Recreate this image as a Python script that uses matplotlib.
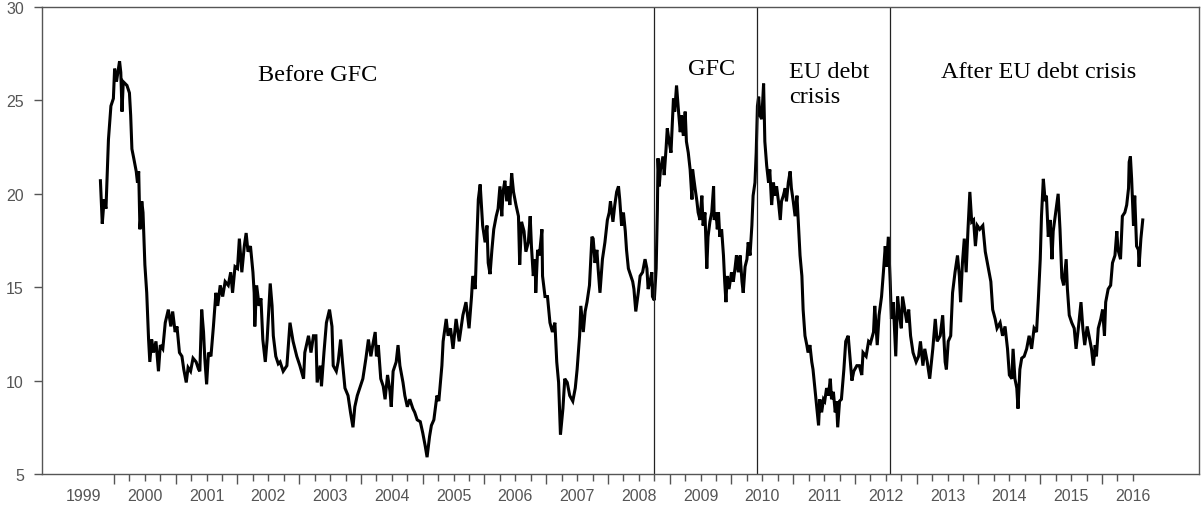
import matplotlib
matplotlib.use('Agg')
import matplotlib.pyplot as plt
import matplotlib.transforms as mtransforms
import numpy as np

# implied volatility index, sampled as decimal years
t = [
    1999.78, 1999.81, 1999.84, 1999.87, 1999.91, 1999.95, 1999.99, 2000.01, 2000.04, 2000.09,
    2000.11, 2000.13, 2000.15, 2000.21, 2000.25, 2000.27, 2000.29, 2000.32, 2000.36, 2000.38,
    2000.40, 2000.42, 2000.45, 2000.47, 2000.50, 2000.53, 2000.56, 2000.58, 2000.61, 2000.64,
    2000.68, 2000.72, 2000.75, 2000.79, 2000.83, 2000.88, 2000.92, 2000.95, 2000.99, 2001.02,
    2001.06, 2001.10, 2001.13, 2001.17, 2001.20, 2001.24, 2001.28, 2001.33, 2001.37, 2001.39,
    2001.42, 2001.45, 2001.47, 2001.50, 2001.53, 2001.57, 2001.61, 2001.65, 2001.68, 2001.72,
    2001.76, 2001.80, 2001.85, 2001.89, 2001.92, 2001.96, 2002.00, 2002.03, 2002.07, 2002.11,
    2002.14, 2002.17, 2002.21, 2002.25, 2002.27, 2002.28, 2002.31, 2002.35, 2002.38, 2002.41,
    2002.45, 2002.48, 2002.53, 2002.56, 2002.58, 2002.62, 2002.66, 2002.69, 2002.74, 2002.80,
    2002.85, 2002.90, 2002.96, 2003.01, 2003.07, 2003.09, 2003.15, 2003.19, 2003.23, 2003.27,
    2003.29, 2003.34, 2003.36, 2003.40, 2003.44, 2003.49, 2003.53, 2003.55, 2003.60, 2003.63,
    2003.67, 2003.70, 2003.74, 2003.79, 2003.83, 2003.87, 2003.90, 2003.94, 2003.98, 2004.03,
    2004.08, 2004.12, 2004.16, 2004.19, 2004.23, 2004.25, 2004.28, 2004.32, 2004.36, 2004.39,
    2004.43, 2004.47, 2004.49, 2004.52, 2004.57, 2004.60, 2004.63, 2004.68, 2004.71, 2004.75,
    2004.79, 2004.84, 2004.87, 2004.91, 2004.96, 2005.00, 2005.04, 2005.07, 2005.11, 2005.14,
    2005.18, 2005.23, 2005.26, 2005.31, 2005.33, 2005.38, 2005.41, 2005.45, 2005.49, 2005.54,
    2005.59, 2005.65, 2005.70, 2005.75, 2005.79, 2005.81, 2005.85, 2005.87, 2005.90, 2005.93,
    2005.97, 2006.01, 2006.04, 2006.06, 2006.09, 2006.12, 2006.15, 2006.19, 2006.22, 2006.25,
    2006.28, 2006.30, 2006.33, 2006.36, 2006.39, 2006.41, 2006.44, 2006.47, 2006.51, 2006.55,
    2006.57, 2006.60, 2006.64, 2006.67, 2006.71, 2006.74, 2006.76, 2006.79, 2006.82, 2006.83,
    2006.86, 2006.89, 2006.93, 2006.94, 2006.98, 2007.02, 2007.06, 2007.10, 2007.14, 2007.17,
    2007.20, 2007.23, 2007.27, 2007.30, 2007.34, 2007.38, 2007.43, 2007.47, 2007.50, 2007.54,
    2007.56, 2007.60, 2007.63, 2007.66, 2007.70, 2007.74, 2007.76, 2007.79, 2007.82, 2007.84,
    2007.87, 2007.91, 2007.95, 2007.99, 2008.02, 2008.04, 2008.08, 2008.11, 2008.14, 2008.17,
    2008.19, 2008.22, 2008.25, 2008.28, 2008.30, 2008.33, 2008.37, 2008.40, 2008.42, 2008.45,
    2008.49, 2008.52, 2008.56, 2008.60, 2008.63, 2008.65, 2008.68, 2008.71, 2008.72, 2008.75,
    2008.78, 2008.80, 2008.81, 2008.83, 2008.85, 2008.89, 2008.91, 2008.94, 2008.96, 2008.99,
    2009.02, 2009.04, 2009.06, 2009.08, 2009.11, 2009.14, 2009.17, 2009.19, 2009.22, 2009.25,
    2009.27, 2009.30, 2009.33, 2009.36, 2009.37, 2009.41, 2009.44, 2009.46, 2009.49, 2009.52,
    2009.54, 2009.57, 2009.60, 2009.62, 2009.65, 2009.68, 2009.71, 2009.72, 2009.75, 2009.77,
    2009.79, 2009.81, 2009.84, 2009.87, 2009.89, 2009.91, 2009.93, 2009.96, 2010.00, 2010.03,
    2010.06, 2010.08, 2010.11, 2010.14, 2010.17, 2010.19, 2010.22, 2010.25, 2010.27, 2010.30,
    2010.33, 2010.35, 2010.38, 2010.40, 2010.42, 2010.44, 2010.46, 2010.49, 2010.52, 2010.54,
    2010.57, 2010.60, 2010.62, 2010.65, 2010.68, 2010.70, 2010.73, 2010.76, 2010.79, 2010.81,
    2010.84, 2010.87, 2010.89, 2010.92, 2010.95, 2010.97, 2011.00, 2011.03, 2011.06, 2011.08,
    2011.11, 2011.14, 2011.16, 2011.19, 2011.22, 2011.24, 2011.27, 2011.30, 2011.32, 2011.35,
    2011.38, 2011.41, 2011.43, 2011.46, 2011.49, 2011.51, 2011.54, 2011.57, 2011.60, 2011.62,
    2011.65, 2011.68, 2011.70, 2011.72, 2011.75, 2011.78, 2011.82, 2011.85, 2011.89, 2011.92,
    2011.95, 2011.98, 2012.03, 2012.07, 2012.11, 2012.13, 2012.18, 2012.22, 2012.25, 2012.30,
    2012.32, 2012.36, 2012.39, 2012.43, 2012.46, 2012.49, 2012.51, 2012.54, 2012.57, 2012.59,
    2012.62, 2012.66, 2012.69, 2012.72, 2012.75, 2012.77, 2012.81, 2012.84, 2012.87, 2012.90,
    2012.94, 2012.99, 2013.03, 2013.06, 2013.10, 2013.13, 2013.17, 2013.21, 2013.26, 2013.30,
    2013.33, 2013.38, 2013.42, 2013.46, 2013.48, 2013.51, 2013.55, 2013.58, 2013.62, 2013.66,
    2013.69, 2013.71, 2013.74, 2013.77, 2013.80, 2013.83, 2013.86, 2013.89, 2013.92, 2013.95,
    2013.98, 2014.02, 2014.07, 2014.11, 2014.16, 2014.20, 2014.23, 2014.27, 2014.30, 2014.35,
    2014.39, 2014.43, 2014.47, 2014.50, 2014.54, 2014.56, 2014.59, 2014.62, 2014.64, 2014.67,
    2014.70, 2014.74, 2014.78, 2014.82, 2014.86, 2014.90, 2014.94, 2014.97, 2015.00, 2015.02,
    2015.05, 2015.08, 2015.10, 2015.13, 2015.16, 2015.19, 2015.21, 2015.25, 2015.29, 2015.32,
    2015.35, 2015.38, 2015.42, 2015.44, 2015.47, 2015.51, 2015.55, 2015.58, 2015.62, 2015.66,
    2015.69, 2015.72, 2015.76, 2015.79, 2015.83, 2015.86, 2015.89, 2015.91, 2015.94, 2015.98,
    2016.01, 2016.04, 2016.06, 2016.10, 2016.14, 2016.17, 2016.21, 2016.24, 2016.26, 2016.30,
    2016.33, 2016.37, 2016.40, 2016.43, 2016.44, 2016.46, 2016.48, 2016.51, 2016.53, 2016.56,
    2016.59, 2016.60, 2016.63, 2016.66,
]
vix = [
    20.7, 18.4, 19.7, 19.2, 22.9, 24.7, 25.1, 26.7, 26.0, 27.1,
    26.5, 24.4, 26.0, 25.8, 25.4, 24.2, 22.4, 21.9, 21.2, 20.6,
    21.2, 18.1, 19.6, 19.0, 16.2, 14.7, 12.2, 11.0, 12.2, 11.5,
    12.1, 10.5, 11.9, 11.7, 13.1, 13.8, 12.9, 13.7, 12.6, 12.9,
    11.5, 11.3, 10.6, 9.9, 10.7, 10.5, 11.2, 11.0, 10.6, 10.5,
    13.8, 12.6, 11.2, 9.8, 11.5, 11.3, 12.9, 14.7, 14.0, 15.1,
    14.5, 15.3, 15.1, 15.8, 14.7, 16.1, 16.0, 17.6, 15.8, 17.2,
    17.9, 16.9, 17.2, 15.8, 14.7, 12.9, 15.1, 14.0, 14.4, 12.2,
    11.0, 12.2, 15.2, 14.0, 12.4, 11.3, 10.9, 11.0, 10.5, 10.8,
    13.1, 12.1, 11.3, 10.8, 10.1, 11.5, 12.4, 11.5, 12.4, 12.4,
    9.9, 10.8, 9.7, 11.5, 13.1, 13.8, 12.9, 10.8, 10.5, 11.0,
    12.2, 11.0, 9.6, 9.2, 8.3, 7.5, 8.6, 9.2, 9.6, 10.1,
    11.2, 12.2, 11.3, 11.9, 12.6, 11.3, 11.9, 10.1, 9.7, 9.0,
    10.3, 9.4, 8.6, 10.5, 11.0, 11.9, 10.8, 9.9, 9.2, 8.6,
    9.0, 8.5, 8.3, 7.9, 7.8, 7.2, 6.5, 5.9, 7.0, 7.6,
    7.9, 9.2, 8.9, 10.8, 12.1, 13.3, 12.4, 12.8, 11.7, 13.3,
    12.1, 13.5, 14.2, 12.8, 14.5, 15.6, 14.9, 17.0, 19.7, 20.5,
    18.3, 17.4, 18.3, 16.3, 15.7, 17.0, 18.1, 18.8, 19.2, 20.4,
    18.8, 20.1, 20.7, 19.6, 20.4, 19.4, 21.1, 20.1, 19.4, 18.8,
    16.2, 18.5, 18.0, 16.9, 17.4, 18.8, 17.2, 15.6, 16.5, 14.7,
    17.0, 16.7, 18.1, 15.6, 14.5, 14.5, 13.1, 12.6, 13.1, 11.0,
    9.9, 7.1, 8.5, 10.1, 9.9, 9.2, 8.9, 9.6, 10.6, 12.4,
    14.0, 12.6, 13.7, 14.2, 15.1, 17.7, 17.6, 16.3, 17.0, 16.0,
    14.7, 16.5, 17.4, 18.6, 19.0, 19.6, 18.5, 19.4, 20.1, 20.4,
    19.7, 18.3, 19.0, 18.0, 17.0, 16.0, 15.6, 15.3, 14.9, 13.7,
    14.7, 15.6, 15.8, 16.5, 16.0, 14.9, 15.3, 15.8, 14.5, 14.3,
    16.0, 19.2, 21.9, 20.4, 21.3, 22.0, 21.0, 22.4, 23.5, 22.8,
    22.2, 23.6, 25.1, 24.4, 25.8, 24.5, 23.3, 24.2, 23.1, 24.4,
    22.8, 22.2, 21.3, 19.7, 21.3, 20.3, 19.6, 19.0, 18.6, 19.9,
    18.3, 19.0, 16.0, 17.7, 18.5, 19.0, 20.4, 18.6, 19.0, 18.1,
    19.0, 17.7, 18.1, 16.7, 15.3, 14.2, 15.6, 14.9, 15.8, 15.3,
    16.1, 16.7, 15.8, 16.7, 15.3, 14.7, 16.1, 16.5, 17.4, 16.7,
    18.3, 19.9, 20.6, 22.2, 24.7, 25.2, 24.2, 24.0, 25.9, 22.8,
    21.5, 20.6, 21.3, 19.4, 20.6, 19.9, 20.4, 19.6, 18.6, 19.6,
    19.9, 20.3, 19.6, 20.6, 21.2, 20.3, 19.6, 18.8, 19.9, 18.6,
    16.7, 15.6, 13.8, 12.4, 11.9, 11.5, 11.9, 11.0, 10.6, 9.6,
    8.6, 7.6, 9.0, 8.3, 9.0, 8.9, 9.6, 9.2, 10.1, 9.0,
    9.4, 8.3, 8.9, 7.5, 8.9, 9.0, 10.6, 12.1, 12.4, 11.2,
    10.0, 10.5, 10.8, 10.8, 10.3, 11.5, 11.3, 12.1, 12.0, 12.6,
    14.0, 11.9, 13.5, 14.5, 15.8, 17.2, 16.1, 17.7, 15.3, 13.3,
    14.2, 11.3, 14.5, 13.5, 12.8, 14.5, 13.7, 13.1, 13.8, 12.4,
    11.5, 11.0, 11.3, 12.1, 10.8, 11.7, 11.0, 10.1, 11.7, 13.3,
    12.1, 12.4, 13.5, 11.0, 10.6, 12.1, 12.4, 14.7, 15.8, 16.7,
    15.6, 14.2, 16.3, 17.6, 15.8, 18.1, 20.1, 18.5, 18.6, 17.2,
    18.3, 18.1, 18.3, 16.9, 16.0, 15.3, 13.8, 13.3, 12.8, 13.1,
    12.4, 12.9, 11.7, 10.3, 10.1, 11.7, 10.1, 9.6, 8.5, 10.6,
    11.2, 11.3, 11.7, 12.4, 11.7, 12.8, 12.6, 14.4, 16.5, 18.8,
    20.8, 19.6, 19.9, 17.7, 18.6, 16.5, 18.0, 19.0, 20.0, 18.1,
    15.5, 15.1, 16.5, 14.9, 13.5, 13.1, 12.8, 11.7, 12.9, 14.2,
    12.8, 11.9, 12.9, 12.4, 11.7, 10.8, 11.9, 11.3, 12.8, 13.3,
    13.8, 12.4, 14.2, 14.9, 15.1, 16.3, 16.7, 18.0, 17.0, 16.5,
    18.8, 19.0, 19.4, 20.3, 21.7, 22.0, 20.8, 18.3, 19.9, 17.2,
    17.0, 16.1, 17.6, 18.6,
]

# period boundaries and their labels
breaks = [2008.75, 2010.42, 2012.57]
period_labels = ['Before GFC', 'GFC', 'EU debt\ncrisis', 'After EU debt crisis']
label_x = [2003.29, 2009.68, 2010.93, 2014.98]
label_y = [26.36, 26.7, 25.88, 26.57]
label_ha = ['center', 'center', 'left', 'center']

year_labels = list(range(1999, 2017))
y_ticks = [5, 10, 15, 20, 25, 30]

grey = '#555555'

fig = plt.figure(figsize=(12.02, 5.10), dpi=100)
ax = fig.add_axes([42 / 1202, 35 / 510, 1157 / 1202, 467 / 510])

ax.plot(t, vix, color='black', lw=2.2, solid_joinstyle='miter')

for b in breaks:
    ax.axvline(b, color='#222222', lw=0.9)

for txt, x, y, ha in zip(period_labels, label_x, label_y, label_ha):
    ax.text(x, y, txt, ha=ha, va='center', fontsize=17.5,
            family='Liberation Serif', color='black', linespacing=1.2)

ax.set_xlim(1998.834, 2017.571)
ax.set_ylim(5, 30)

for s in ax.spines.values():
    s.set_color(grey)
    s.set_linewidth(1.0)

ax.set_yticks(y_ticks)
ax.set_yticklabels([str(v) for v in y_ticks], family='Liberation Sans',
                   fontsize=11.5, color=grey)
ax.tick_params(axis='y', length=6, width=1.0, color=grey, pad=7)

ax.set_xticks(np.arange(2000, 2017))
ax.set_xticklabels([])
ax.set_xticks(np.arange(2000.25, 2016.75, 0.25), minor=True)
ax.tick_params(axis='x', which='major', length=7.2, width=1.0, color=grey)
ax.tick_params(axis='x', which='minor', length=4.7, width=1.0, color=grey)

# year labels sit between the yearly ticks
trans = mtransforms.blended_transform_factory(ax.transData, ax.transAxes)
for yr in year_labels:
    ax.text(yr + 0.5, -0.045, str(yr), transform=trans, ha='center', va='center',
            family='Liberation Sans', fontsize=11.5, color=grey)

fig.savefig('out.png', dpi=100)
